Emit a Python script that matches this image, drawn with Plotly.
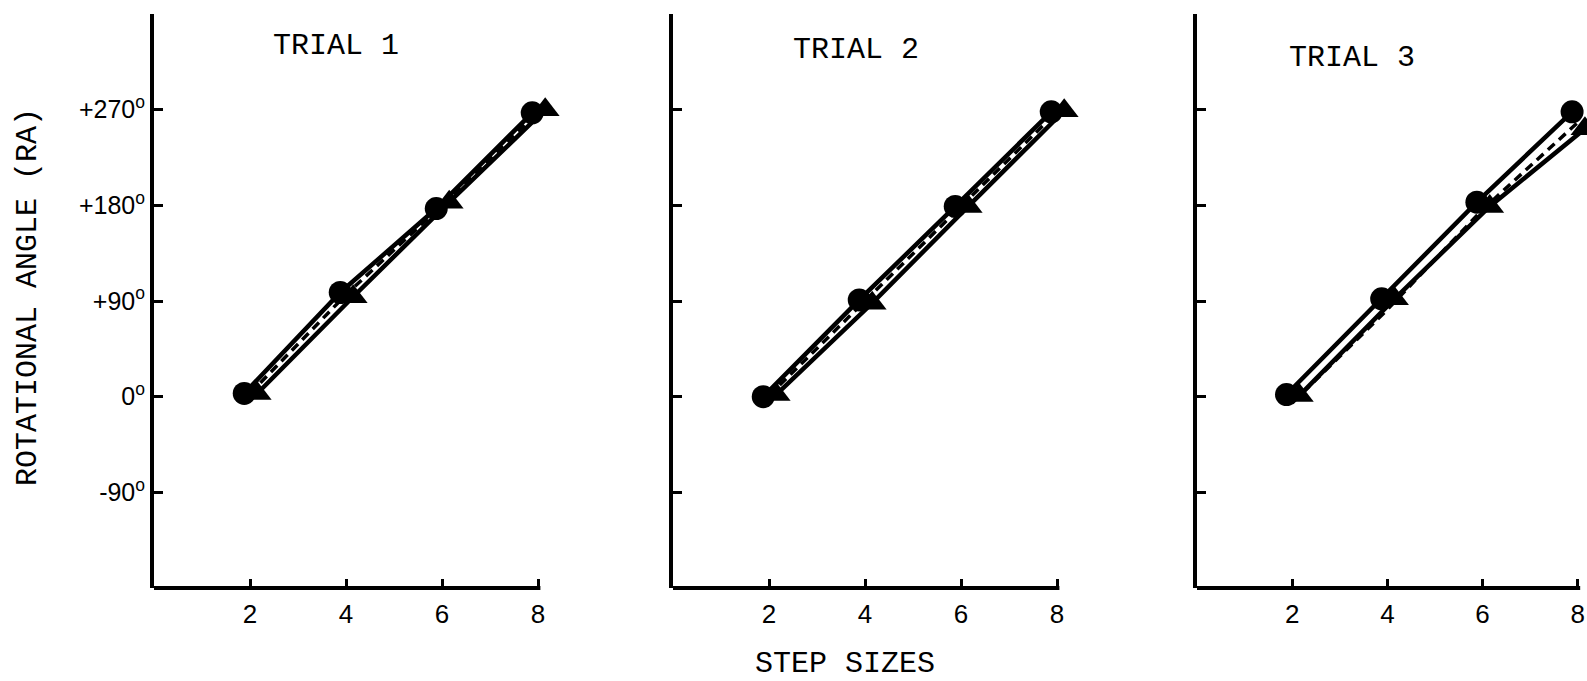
import plotly.graph_objects as go

# ---- data ----
step_sizes = [2, 4, 6, 8]
trial_titles = ["TRIAL 1", "TRIAL 2", "TRIAL 3"]

circle_t1 = [3, 98, 177, 267]
triangle_t1 = [3, 94, 183, 270]
dashed_t1 = [3, 96, 180, 268]

circle_t2 = [0, 91, 179, 268]
triangle_t2 = [2, 88, 179, 269]
dashed_t2 = [1, 90, 180, 268]

circle_t3 = [2, 92, 183, 268]
triangle_t3 = [1, 92, 179, 252]
dashed_t3 = [-6, 82, 176, 258]

y_tick_vals = [-90, 0, 90, 180, 270, 360]
y_tick_text = ["-90<sup>o</sup>", "0<sup>o</sup>", "+90<sup>o</sup>",
               "+180<sup>o</sup>", "+270<sup>o</sup>", ""]
x_tick_vals = [2, 4, 6, 8]
x_tick_text = ["2", "4", "6", "8"]
x_axis_end = 8.05

circles = [circle_t1, circle_t2, circle_t3]
triangles = [triangle_t1, triangle_t2, triangle_t3]
dashed = [dashed_t1, dashed_t2, dashed_t3]

# ---- style ----
W, H = 1587, 681
circle_dx = -0.12   # visual offset so symbols do not overlap
tri_dx = 0.15
px_per_unit = [48.0, 48.0, 47.6]
x_origin_px = [154, 673, 1197]
extra_px = 22
y_dom_px = (14, 588)
title_px = [(336, 46), (856, 50), (1352, 58)]
mono = "Liberation Mono, Courier New, monospace"
sans = "Liberation Sans, DejaVu Sans, sans-serif"

fig = go.Figure()
for i in range(3):
    ax = "" if i == 0 else str(i + 1)
    xa, ya = "x" + ax, "y" + ax
    fig.add_trace(go.Scatter(
        x=step_sizes, y=dashed[i], xaxis=xa, yaxis=ya, mode="lines",
        line=dict(color="black", width=3.5, dash="9px,6px"), showlegend=False))
    fig.add_trace(go.Scatter(
        x=[s + tri_dx for s in step_sizes], y=triangles[i], xaxis=xa, yaxis=ya,
        mode="lines+markers", cliponaxis=False,
        line=dict(color="black", width=4.5),
        marker=dict(symbol="triangle-up", size=25, color="black"), showlegend=False))
    fig.add_trace(go.Scatter(
        x=[s + circle_dx for s in step_sizes], y=circles[i], xaxis=xa, yaxis=ya,
        mode="lines+markers", cliponaxis=False,
        line=dict(color="black", width=4.5),
        marker=dict(symbol="circle", size=23, color="black"), showlegend=False))

layout = dict(
    width=W, height=H, paper_bgcolor="white", plot_bgcolor="white",
    margin=dict(l=0, r=0, t=0, b=0), showlegend=False,
)
shapes = []
for i in range(3):
    ax = "" if i == 0 else str(i + 1)
    x0 = x_origin_px[i]
    x1 = min(x0 + 8 * px_per_unit[i] + extra_px, W)
    rng_end = (x1 - x0) / px_per_unit[i]
    layout["xaxis" + ax] = dict(
        domain=[x0 / W, x1 / W], range=[0, rng_end], anchor="y" + ax,
        showgrid=False, zeroline=False, showline=False,
        ticks="inside", ticklen=9, tickwidth=3, tickcolor="black",
        tickvals=x_tick_vals, ticktext=x_tick_text, ticklabelstandoff=8,
        tickfont=dict(family=sans, size=26, color="black"))
    layout["yaxis" + ax] = dict(
        domain=[(H - y_dom_px[1]) / H, (H - y_dom_px[0]) / H], range=[-180, 360],
        anchor="x" + ax,
        showgrid=False, zeroline=False, showline=True, linecolor="black", linewidth=4,
        ticks="inside", ticklen=9, tickwidth=3, tickcolor="black",
        tickvals=y_tick_vals, ticktext=y_tick_text if i == 0 else [""] * len(y_tick_vals),
        showticklabels=(i == 0),
        tickfont=dict(family=sans, size=25, color="black"))
    # x axis line ending at the last tick
    shapes.append(dict(type="line", xref="x" + ax, yref=("y" + ax) + " domain",
                       x0=0, x1=x_axis_end, y0=0, y1=0,
                       line=dict(color="black", width=4), layer="above"))
layout["shapes"] = shapes
fig.update_layout(**layout)

annotations = []
for i in range(3):
    tx, ty = title_px[i]
    annotations.append(dict(
        text=trial_titles[i], x=tx / W, y=(H - ty) / H, xref="paper", yref="paper",
        showarrow=False, xanchor="center", yanchor="middle",
        font=dict(family=mono, size=30, color="black")))
annotations.append(dict(
    text="STEP SIZES", x=845 / W, y=(H - 664) / H, xref="paper", yref="paper",
    showarrow=False, xanchor="center", yanchor="middle",
    font=dict(family=mono, size=30, color="black")))
annotations.append(dict(
    text="ROTATIONAL ANGLE (RA)", x=28 / W, y=(H - 297) / H, xref="paper", yref="paper",
    showarrow=False, xanchor="center", yanchor="middle", textangle=-90,
    font=dict(family=mono, size=30, color="black")))
fig.update_layout(annotations=annotations)

fig.write_html("out.html")
